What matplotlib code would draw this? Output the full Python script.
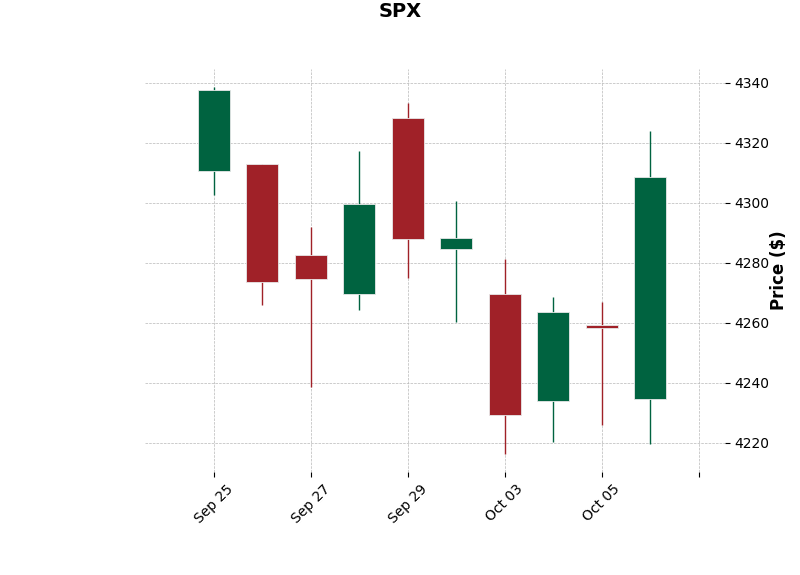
import matplotlib
matplotlib.use("Agg")
import matplotlib.pyplot as plt
from matplotlib.patches import Rectangle

dates = ["Sep 25", "Sep 26", "Sep 27", "Sep 28", "Sep 29",
         "Oct 02", "Oct 03", "Oct 04", "Oct 05", "Oct 06"]
opens = [4310.62, 4312.88, 4282.63, 4269.65, 4328.18, 4284.52, 4269.75, 4233.83, 4259.31, 4234.79]
highs = [4338.51, 4313.01, 4292.07, 4317.27, 4333.15, 4300.58, 4281.15, 4268.50, 4267.13, 4324.10]
lows = [4302.70, 4265.98, 4238.63, 4264.38, 4274.86, 4260.21, 4216.45, 4220.48, 4225.91, 4219.55]
closes = [4337.44, 4273.53, 4274.51, 4299.70, 4288.05, 4288.39, 4229.45, 4263.75, 4258.19, 4308.50]

UP = "#006340"
DOWN = "#a02128"

fig = plt.figure(figsize=(8, 5.75), dpi=100)
ax = fig.add_axes([0.181, 0.179, 0.725, 0.701])

width = 0.66
for i, (o, h, l, c) in enumerate(zip(opens, highs, lows, closes)):
    col = UP if c >= o else DOWN
    ax.vlines(i, l, h, color=col, linewidth=1, zorder=2)
    bottom = min(o, c)
    height = max(abs(c - o), 0.3)
    ax.add_patch(Rectangle((i - width / 2, bottom), width, height,
                           facecolor=col, edgecolor="#e8e8e8", linewidth=0.6, zorder=3))

ax.set_xlim(-1.42, 10.54)
ax.set_ylim(4210.3, 4344.6)
ticks = list(range(0, 11, 2))
ax.set_xticks(ticks)
ax.set_xticklabels([dates[t] if t < len(dates) else "" for t in ticks], rotation=45,
                   ha="center", fontsize=10)
ax.set_yticks(range(4220, 4341, 20))
ax.yaxis.tick_right()
ax.yaxis.set_label_position("right")
ax.set_ylabel("Price ($)", fontsize=12, fontweight="bold", labelpad=0.5)
for s in ax.spines.values():
    s.set_visible(False)
ax.grid(True, linestyle="--", color="#b8b8b8", linewidth=0.5, zorder=0)
ax.set_axisbelow(True)
ax.tick_params(axis="both", labelsize=10)

fig.suptitle("SPX", fontsize=14, fontweight="bold", y=0.997)
fig.savefig("out.png", dpi=100)
